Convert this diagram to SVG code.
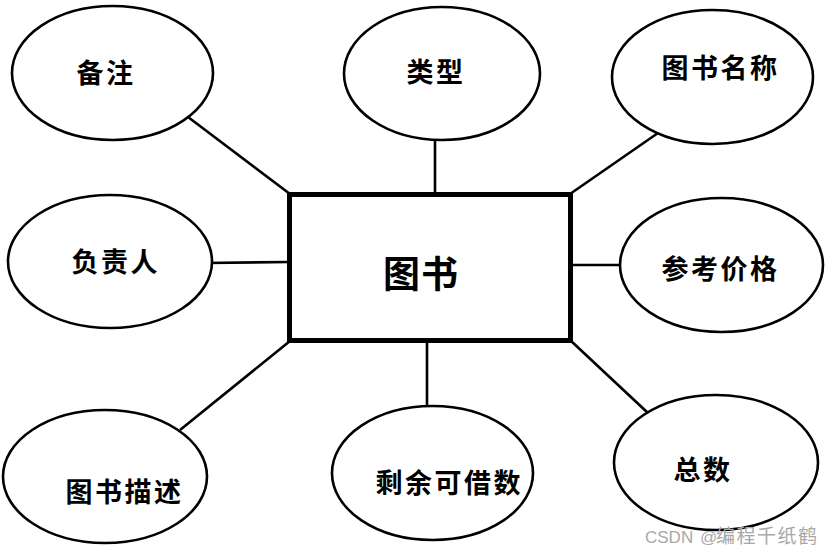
<svg xmlns="http://www.w3.org/2000/svg" width="832" height="555" viewBox="0 0 832 555">
<style>
.e{fill:#fff;stroke:#000;stroke-width:2.6}
.t{font-family:"Noto Sans CJK SC","Noto Sans",sans-serif;font-size:27px;font-weight:bold;letter-spacing:2.5px;dominant-baseline:central;fill:#000}
.c line{stroke:#000;stroke-width:2.6}
</style>
<rect width="832" height="555" fill="#fff"/>
<g id="connectors" class="c">
<line x1="188" y1="117" x2="290" y2="194"/>
<line x1="435" y1="140" x2="435" y2="194"/>
<line x1="658" y1="133" x2="570" y2="194"/>
<line x1="205" y1="263" x2="289" y2="262"/>
<line x1="567" y1="265" x2="621" y2="265"/>
<line x1="180" y1="430" x2="290" y2="341"/>
<line x1="427" y1="341" x2="427" y2="407"/>
<line x1="570" y1="340" x2="648" y2="413"/>
</g>
<g id="node-book">
<rect x="289.5" y="194.5" width="281" height="146" fill="#fff" stroke="#000" stroke-width="5"/>
<text class="t" x="383" y="272" style="font-size:37px;letter-spacing:1px">图书</text>
</g>
<g id="node-remark">
<ellipse class="e" cx="112.5" cy="73" rx="100.5" ry="67"/>
<text class="t" x="76.5" y="71.5">备注</text>
</g>
<g id="node-type">
<ellipse class="e" cx="442" cy="73.5" rx="98" ry="66.5"/>
<text class="t" x="406.5" y="70">类型</text>
</g>
<g id="node-name">
<ellipse class="e" cx="712.5" cy="77" rx="100.5" ry="67"/>
<text class="t" x="661.5" y="66.5">图书名称</text>
</g>
<g id="node-owner">
<ellipse class="e" cx="110" cy="261.5" rx="102" ry="66.5"/>
<text class="t" x="71.5" y="260">负责人</text>
</g>
<g id="node-price">
<ellipse class="e" cx="721.5" cy="265" rx="101.5" ry="67"/>
<text class="t" x="661.5" y="267.5">参考价格</text>
</g>
<g id="node-desc">
<ellipse class="e" cx="105" cy="476.5" rx="102" ry="66.5"/>
<text class="t" x="65.5" y="490">图书描述</text>
</g>
<g id="node-remain">
<ellipse class="e" cx="432.5" cy="473" rx="100.5" ry="67"/>
<text class="t" x="375.5" y="481.5">剩余可借数</text>
</g>
<g id="node-total">
<ellipse class="e" cx="716" cy="462.5" rx="102" ry="67.5"/>
<text class="t" x="673.5" y="468">总数</text>
</g>
<text y="543" font-family="Liberation Sans,'Noto Sans CJK SC',sans-serif" font-size="17" fill="#a8a8a8"><tspan x="645">CSDN</tspan><tspan x="700">@</tspan><tspan x="716" font-family="'Noto Sans CJK SC',sans-serif" font-size="19" letter-spacing="1.5">编程千纸鹤</tspan></text>
</svg>
